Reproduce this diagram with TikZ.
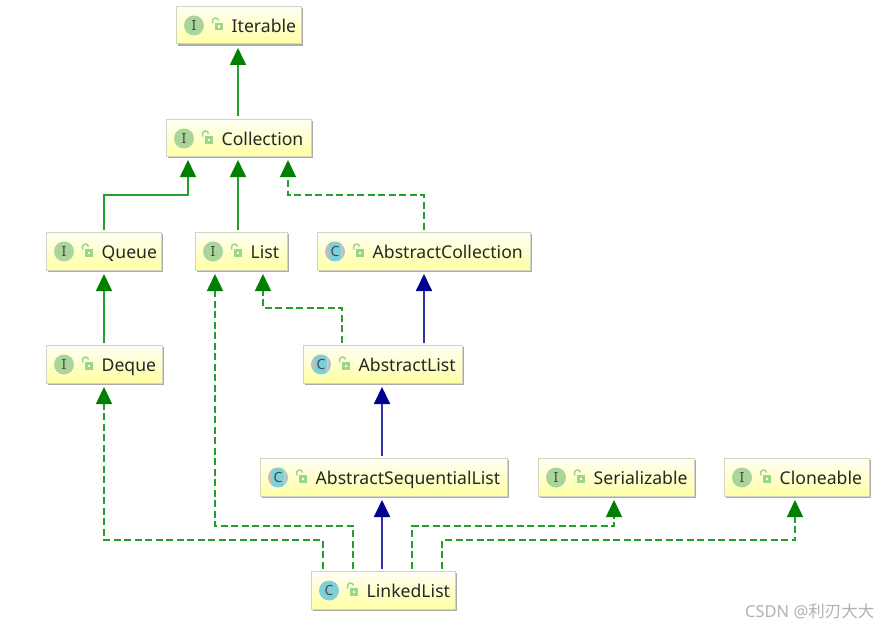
\documentclass[tikz,border=0pt]{standalone}
\usepackage{fontspec}
\setmainfont{Noto Sans}
\newfontfamily\cjkfont{Noto Sans CJK SC}
\usetikzlibrary{arrows.meta,calc,shadows}
\definecolor{inhgreen}{HTML}{008000}
\definecolor{linegreen}{HTML}{22A02A}
\definecolor{inhblue}{HTML}{000090}
\definecolor{lineblue}{HTML}{3030A8}
\definecolor{boxedge}{HTML}{D4D4C4}
\definecolor{ifacefill}{HTML}{A9D59A}
\definecolor{classfill}{HTML}{7FCFD8}
\definecolor{lockgreen}{HTML}{9AD68C}
\tikzset{
  x=1pt,y=-1pt,
  umlbox/.style={draw=boxedge,line width=1pt,top color=yellow!4!white,bottom color=yellow!36!white,
    inner sep=0pt,
    general shadow={shadow xshift=1.8pt,shadow yshift=-1.8pt,fill=black!33}},
  boxlabel/.style={anchor=base west,inner sep=0pt,font=\fontsize{17.6}{20}\selectfont,text=black!85},
  iconletter/.style={inner sep=0pt,font=\bfseries\fontsize{14}{14}\selectfont,text=black!72},
  ifaceicon/.style={circle,fill=ifacefill,minimum size=20pt,inner sep=0pt},
  classicon/.style={circle,fill=classfill,minimum size=20pt,inner sep=0pt},
  extgreen/.style={draw=linegreen,line width=1.7pt,shorten >=3.5pt,shorten <=2.5pt,arrows={-{Triangle[length=17pt,width=16pt,color=inhgreen]}}},
  impgreen/.style={extgreen,line width=1.5pt,dash pattern=on 7pt off 3.5pt},
  extblue/.style={draw=lineblue,line width=1.8pt,shorten >=3.5pt,shorten <=2.5pt,arrows={-{Triangle[length=17pt,width=16pt,color=inhblue]}}},
}
\newcommand{\lockicon}{%
  \draw[lockgreen,line width=1.5pt] (-4.5,0) -- (-4.5,-2.5) arc[start angle=180,end angle=10,radius=3pt];
  \fill[lockgreen] (-2.5,-0.5) rectangle (6,7);
  \fill[yellow!14!white] (0.5,2) rectangle (3.2,4.5);
}
% #1 name #2 x1 #3 y1 #4 x2 #5 y2 #6 kind(I/C/A) #7 label
\newcommand{\umlclass}[7]{%
  \node[umlbox,minimum width=#4pt-#2pt-1.5pt,minimum height=#5pt-#3pt-1.5pt,anchor=north west] (#1) at (#2,#3) {};
  \begin{scope}[shift={(#2,#3)}]
  \ifx#6A
    \node[circle,fill=black!25,minimum size=20pt,inner sep=0pt] (#1icon) at (18,19.5) {};
    \fill[yellow!18!white] (11.5,8) rectangle (24.5,31);
    \begin{scope}
      \clip (11.5,8) rectangle (24.5,31);
      \fill[classfill] (18,19.5) circle[radius=10pt];
    \end{scope}
    \node[iconletter] at (18,19.5) {C};
  \else\ifx#6C
    \node[classicon] (#1icon) at (18,19.5) {};
    \node[iconletter] at (#1icon) {C};
  \else
    \node[ifaceicon] (#1icon) at (18,19.5) {};
    \node[iconletter] at (#1icon) {I};
  \fi\fi
  \begin{scope}[shift={(41,17.5)}]\lockicon\end{scope}
  \node[boxlabel] (#1text) at (55.5,26.5) {#7};
  \end{scope}
}
\begin{document}
\begin{tikzpicture}
\useasboundingbox (0,0) rectangle (879,626);
\fill[white] (0,0) rectangle (879,626);
\umlclass{iterable}{176}{6}{302}{45}{I}{Iterable}
\umlclass{collection}{166}{119}{312}{157}{I}{Collection}
\umlclass{queue}{46}{232}{162}{271}{I}{Queue}
\umlclass{list}{195}{232}{288}{271}{I}{List}
\umlclass{abscoll}{317}{232}{531}{271}{A}{AbstractCollection}
\umlclass{deque}{46}{345}{163}{384}{I}{Deque}
\umlclass{abslist}{303}{345}{463}{384}{A}{AbstractList}
\umlclass{absseq}{260}{458}{508}{497}{A}{AbstractSequentialList}
\umlclass{serial}{538}{458}{695}{497}{I}{Serializable}
\umlclass{clone}{724}{458}{870}{497}{I}{Cloneable}
\umlclass{linked}{311}{571}{456}{610}{C}{LinkedList}
% connectors
\draw[extgreen] (238,0 |- collection.north) -- (238,0 |- iterable.south);
\draw[extgreen] (104,0 |- queue.north) -- (104,195) -- (188,195) -- (188,0 |- collection.south);
\draw[extgreen] (238,0 |- list.north) -- (238,0 |- collection.south);
\draw[impgreen] (424,0 |- abscoll.north) -- (424,195) -- (288,195) -- (288,0 |- collection.south);
\draw[extgreen] (104,0 |- deque.north) -- (104,0 |- queue.south);
\draw[impgreen] (342,0 |- abslist.north) -- (342,308) -- (263,308) -- (263,0 |- list.south);
\draw[extblue] (424,0 |- abslist.north) -- (424,0 |- abscoll.south);
\draw[extblue] (382,0 |- absseq.north) -- (382,0 |- abslist.south);
\draw[extblue] (382,0 |- linked.north) -- (382,0 |- absseq.south);
\draw[impgreen] (323,0 |- linked.north) -- (323,540) -- (104,540) -- (104,0 |- deque.south);
\draw[impgreen] (353,0 |- linked.north) -- (353,526) -- (215,526) -- (215,0 |- list.south);
\draw[impgreen] (412,0 |- linked.north) -- (412,526) -- (614,526) -- (614,0 |- serial.south);
\draw[impgreen] (442,0 |- linked.north) -- (442,540) -- (795,540) -- (795,0 |- clone.south);
\node[anchor=base west,inner sep=0pt,text=black!30,font=\fontsize{16.5}{18}\selectfont] (mark) at (745,617) {CSDN @{\cjkfont 利刃大大}};
\end{tikzpicture}
\end{document}
